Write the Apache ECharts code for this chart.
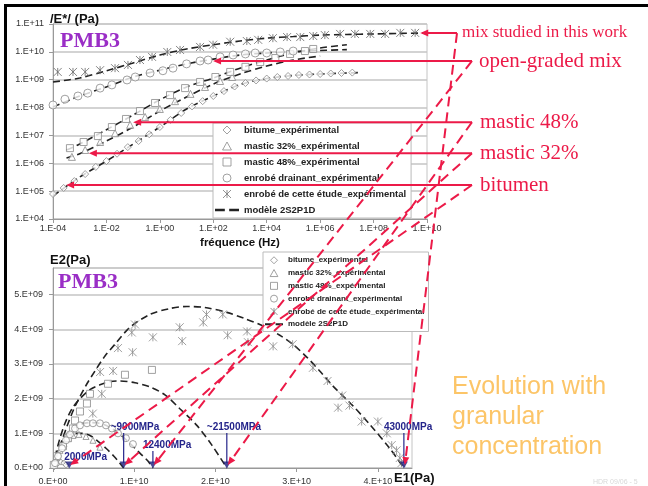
<!DOCTYPE html>
<html><head><meta charset="utf-8">
<script src="https://cdn.jsdelivr.net/npm/echarts@6/dist/echarts.min.js"></script>
<style>html,body{margin:0;padding:0;background:#fff}#c{width:648px;height:486px}</style>
</head><body><div id="c"></div>
<script>
// ---------------- DATA ----------------
// Tick labels
const topXTickLabels = ['1.E-04','1.E-02','1.E+00','1.E+02','1.E+04','1.E+06','1.E+08','1.E+10'];
const topYTickLabels = ['1.E+04','1.E+05','1.E+06','1.E+07','1.E+08','1.E+09','1.E+10','1.E+11'];
const botXTickLabels = ['0.E+00','1.E+10','2.E+10','3.E+10','4.E+10'];
const botYTickLabels = ['0.E+00','1.E+09','2.E+09','3.E+09','4.E+09','5.E+09'];

// Series names
const S_BIT = 'bitume_expérimental';
const S_M32 = 'mastic 32%_expérimental';
const S_M48 = 'mastic 48%_expérimental';
const S_OG  = 'enrobé drainant_expérimental';
const S_MIX = 'enrobé de cette étude_expérimental';
const S_MOD = 'modèle 2S2P1D';

// Top chart : [frequency (Hz), |E*| (Pa)]
const bitumenTop = [[1e-4,7.9e4],[2.5e-4,1.3e5],[6.3e-4,2.3e5],[1.6e-3,4.1e5],[4e-3,7.4e5],[1e-2,1.2e6],[2.5e-2,2.2e6],[6.3e-2,3.8e6],[0.16,6.3e6],[0.4,1.1e7],[1,2.0e7],[2.5,3.6e7],[6.3,6.4e7],[16,1.1e8],[40,1.7e8],[100,2.6e8],[250,3.9e8],[630,5.7e8],[1600,7.6e8],[4000,9.4e8],[1e4,1.1e9],[2.5e4,1.25e9],[6.3e4,1.36e9],[1.6e5,1.48e9],[4e5,1.54e9],[1e6,1.6e9],[2.5e6,1.67e9],[6.3e6,1.74e9],[1.6e7,1.8e9]];
const mastic32Top = [[5.1e-4,1.7e6],[1.6e-3,3.0e6],[5.8e-3,5.8e6],[2.1e-2,1.2e7],[7.7e-2,2.4e7],[0.28,4.6e7],[1.0,8.9e7],[3.7,1.7e8],[14,3.1e8],[49,5.5e8],[180,9.0e8],[510,1.25e9]];
const mastic48Top = [[4.3e-4,3.5e6],[1.4e-3,5.8e6],[4.8e-3,9.5e6],[1.6e-2,2.0e7],[5.4e-2,3.9e7],[0.18,7.5e7],[0.66,1.46e8],[2.4,2.8e8],[8.8,5.0e8],[32,8.3e8],[120,1.25e9],[430,1.9e9],[1.6e3,2.9e9],[5.7e3,4.3e9],[2.1e4,6.0e9],[7.5e4,8.4e9],[2.7e5,1.07e10],[5.5e5,1.27e10]];
const openGradedTop = [[1e-4,1.24e8],[2.8e-4,2.0e8],[8.6e-4,2.6e8],[2.0e-3,3.3e8],[5.8e-3,5.0e8],[1.6e-2,6.5e8],[5.9e-2,9.8e8],[0.12,1.25e9],[0.43,1.74e9],[1.3,2.1e9],[3.1,2.6e9],[10,3.7e9],[32,4.7e9],[64,5.1e9],[180,6.6e9],[550,7.7e9],[1.6e3,8.4e9],[3.7e3,9.1e9],[1.0e4,9.1e9],[3.2e4,9.9e9],[9.8e4,1.07e10]];
const mixTop = [[1.5e-4,1.9e9],[5.6e-4,1.9e9],[1.6e-3,1.9e9],[5.8e-3,2.2e9],[2.1e-2,2.6e9],[6.4e-2,3.4e9],[0.18,5.1e9],[0.51,6.6e9],[1.9,9.9e9],[5.7,1.17e10],[32,1.5e10],[98,1.8e10],[430,2.3e10],[1.8e3,2.45e10],[4.8e3,2.7e10],[1.7e4,3.1e10],[5.8e4,3.4e10],[1.8e5,3.4e10],[5.5e5,3.7e10],[1.5e6,4.0e10],[5.6e6,4.4e10],[2.0e7,4.4e10],[7.5e7,4.4e10],[2.7e8,4.4e10],[1.0e9,4.8e10],[3.6e9,4.8e10]];
// 2S2P1D model curves (top)
const mixModelTop = [[1e-4,8.3e8],[1e-3,1.15e9],[1e-2,2.1e9],[0.1,4.0e9],[1,7.7e9],[10,1.27e10],[100,1.8e10],[1e3,2.45e10],[1e4,3.1e10],[1e5,3.55e10],[1e6,4.0e10],[1e7,4.2e10],[1e8,4.4e10],[1e9,4.6e10],[1e10,4.75e10]];
const ogModelTop = [[1e-4,1.05e8],[1e-3,2.6e8],[1e-2,5.5e8],[0.1,1.25e9],[1,2.2e9],[10,3.7e9],[100,5.5e9],[1e3,7.7e9],[1e4,9.1e9],[1e5,1.03e10],[1e6,1.12e10],[1e7,1.2e10]];
const m48ModelTop = [[3.2e-4,3.0e6],[1e-3,4.9e6],[1e-2,1.6e7],[0.1,5.4e7],[1,1.9e8],[10,5.5e8],[100,1.15e9],[1e3,2.6e9],[1e4,5.1e9],[1e5,9.1e9],[1e6,1.38e10],[1e7,1.8e10]];
const m32ModelTop = [[3.2e-4,1.55e6],[1e-3,2.2e6],[1e-2,6.3e6],[0.1,2.0e7],[1,7.5e7],[10,2.4e8],[100,7.0e8],[1e3,1.6e9],[1e4,3.1e9],[1e5,5.1e9],[1e6,7.1e9]];
const bitModelTop = [[1e-4,6.7e4],[1e-3,3.2e5],[1e-2,1.2e6],[0.1,4.9e6],[1,2.0e7],[10,8.9e7],[100,2.6e8],[1e3,6.7e8],[1e4,1.1e9],[1e5,1.42e9],[1e6,1.6e9],[1e7,1.74e9],[3e7,1.8e9]];

// Bottom chart (Cole-Cole) : [E1 (Pa), E2 (Pa)]
const mixBot = [[4.9e9,1.57e9],[6.0e9,2.14e9],[5.8e9,2.77e9],[7.4e9,2.80e9],[8.0e9,3.46e9],[9.8e9,3.34e9],[9.7e9,3.91e9],[1.01e10,4.14e9],[1.23e10,3.77e9],[1.56e10,4.06e9],[1.59e10,3.66e9],[1.85e10,4.20e9],[1.89e10,4.43e9],[2.09e10,4.43e9],[2.15e10,3.83e9],[2.39e10,3.94e9],[2.40e10,3.63e9],[2.71e10,3.51e9],[2.95e10,3.57e9],[3.20e10,2.89e9],[3.38e10,2.51e9],[3.56e10,2.09e9],[3.51e10,1.74e9],[3.65e10,1.80e9],[3.80e10,1.34e9],[4.00e10,1.34e9],[4.11e10,1.00e9],[4.17e10,0.66e9],[4.23e10,0.51e9],[4.27e10,0.29e9],[4.29e10,0.14e9]];
const mastic48Bot = [[0.1e9,0.09e9],[0.49e9,0.34e9],[1.23e9,0.63e9],[1.85e9,0.86e9],[2.46e9,1.14e9],[2.71e9,1.37e9],[3.32e9,1.63e9],[4.18e9,1.86e9],[4.55e9,2.14e9],[6.77e9,2.43e9],[8.86e9,2.69e9],[1.218e10,2.83e9]];
const openGradedBot = [[0.25e9,0.14e9],[0.62e9,0.34e9],[1.11e9,0.57e9],[1.60e9,0.80e9],[2.09e9,0.97e9],[2.71e9,1.14e9],[3.32e9,1.23e9],[4.18e9,1.29e9],[4.92e9,1.29e9],[5.78e9,1.29e9],[6.52e9,1.23e9],[7.26e9,1.14e9],[8.00e9,1.00e9],[8.98e9,0.86e9],[9.84e9,0.69e9]];
const mastic32Bot = [[0.37e9,0.23e9],[0.86e9,0.51e9],[1.35e9,0.71e9],[1.85e9,0.86e9],[2.46e9,0.94e9],[3.20e9,0.97e9],[4.06e9,0.91e9],[4.92e9,0.80e9],[5.78e9,0.60e9]];
const bitumenBot = [[0.12e9,0.03e9],[0.37e9,0.09e9],[0.62e9,0.14e9],[0.98e9,0.17e9],[1.35e9,0.14e9],[1.6e9,0.09e9]];
const mixModelBot = [[0,0],[0.86e9,0.63e9],[1.72e9,1.20e9],[2.58e9,1.71e9],[3.32e9,2.06e9],[4.18e9,2.43e9],[5.17e9,2.80e9],[6.40e9,3.23e9],[7.63e9,3.57e9],[9.47e9,4.06e9],[1.193e10,4.43e9],[1.439e10,4.60e9],[1.648e10,4.66e9],[1.870e10,4.63e9],[2.140e10,4.49e9],[2.362e10,4.31e9],[2.546e10,4.14e9],[2.792e10,3.83e9],[2.952e10,3.57e9],[3.124e10,3.20e9],[3.284e10,2.80e9],[3.444e10,2.37e9],[3.690e10,1.80e9],[3.899e10,1.26e9],[4.145e10,0.57e9],[4.32e10,0]];
const m48ModelBot = [[0,0],[0.37e9,0.43e9],[0.86e9,0.86e9],[1.48e9,1.29e9],[2.34e9,1.71e9],[3.32e9,2.00e9],[4.55e9,2.26e9],[5.78e9,2.40e9],[7.01e9,2.49e9],[8.24e9,2.51e9],[1.009e10,2.46e9],[1.193e10,2.34e9],[1.378e10,2.11e9],[1.562e10,1.71e9],[1.771e10,1.23e9],[1.956e10,0.66e9],[2.14e10,0]];
const ogModelBot = [[0,0],[0.37e9,0.34e9],[0.86e9,0.66e9],[1.60e9,0.94e9],[2.46e9,1.14e9],[3.32e9,1.26e9],[4.55e9,1.31e9],[5.78e9,1.29e9],[7.01e9,1.17e9],[8.24e9,0.97e9],[9.47e9,0.71e9],[1.070e10,0.43e9],[1.169e10,0.20e9],[1.23e10,0]];
const m32ModelBot = [[0,0],[0.49e9,0.43e9],[1.11e9,0.71e9],[1.85e9,0.91e9],[2.71e9,1.00e9],[3.57e9,1.00e9],[4.55e9,0.94e9],[5.54e9,0.77e9],[6.52e9,0.57e9],[7.50e9,0.34e9],[8.24e9,0.14e9],[8.7e9,0]];
const bitModelBot = [[0,0],[0.3e9,0.12e9],[0.7e9,0.18e9],[1.1e9,0.19e9],[1.5e9,0.14e9],[1.8e9,0.08e9],[2.0e9,0]];

// Glassy moduli marked on the E1 axis
const transitionE1 = [2.0e9, 8.7e9, 1.23e10, 2.14e10, 4.32e10];
const transitionLabels = ['2000MPa','~9000MPa','12400MPa','~21500MPa','43000MPa'];

// Points on the top chart the red labels point at: [freq, |E*|]
const redLabelTexts = ['mix studied in this work','open-graded mix','mastic 48%','mastic 32%','bitumen'];
const redTargetsTop = [[5.6e9,4.75e10],[98,4.7e9],[0.1,3.0e7],[2.2e-3,2.3e6],[3.1e-4,1.66e5]];
const redTargetTransition = [4, 2, 3, 1, 0]; // index into transitionE1

// ---------------- CHART ----------------
const FONT = '"Liberation Sans", Arial, sans-serif';
const SERIF = '"Liberation Serif", "Times New Roman", serif';
const GRAY = '#8a8a8a';
const GRID = '#c4c4c4';
const RED = '#ec1a48';
const BLUE = '#24248a';
const STAR = 'path://M0,0L10,10M10,0L0,10M5,0L5,10';
const DIAMOND = 'path://M5,0L10,5L5,10L0,5Z';
const TRIANGLE = 'path://M5,0L10,9L0,9Z';
const SQUARE = 'path://M0,0L10,0L10,10L0,10Z';
const DASH_ICON = 'path://M0,0L9,0L9,2.2L0,2.2ZM13,0L22,0L22,2.2L13,2.2Z';
const lg = a => a.map(p => [Math.log10(p[0]), p[1]]);

const marker = {
  [S_BIT]: {symbol:'diamond', top:7, bot:6},
  [S_M32]: {symbol:'triangle', top:7, bot:6},
  [S_M48]: {symbol:'rect', top:7, bot:7},
  [S_OG]:  {symbol:'circle', top:8, bot:7},
  [S_MIX]: {symbol:STAR, top:8, bot:8}
};
const hollow = {color:'#fff', borderColor:GRAY, borderWidth:1};
const starStyle = c => ({color:'rgba(0,0,0,0)', borderColor:c, borderWidth:1});
function scatter(name, data, grid) {
  const m = marker[name];
  return {
    type:'scatter', name, data, xAxisIndex:grid, yAxisIndex:grid, z:3,
    symbol:m.symbol, symbolSize: grid === 0 ? m.top : m.bot, silent:true,
    itemStyle: name === S_MIX ? starStyle(grid === 0 ? '#666' : '#8a8a8a') : hollow
  };
}
function model(data, grid) {
  return {type:'line', name:S_MOD, data, xAxisIndex:grid, yAxisIndex:grid, smooth:0.3, symbol:'none', showSymbol:false, z:2,
    silent:true, itemStyle:{color:'#222'}, lineStyle:{color:'#222', width:1.6, type:[7,4]}};
}
const legendItems = [
  {name:S_BIT, icon:DIAMOND, itemStyle:hollow},
  {name:S_M32, icon:TRIANGLE, itemStyle:hollow},
  {name:S_M48, icon:SQUARE, itemStyle:hollow},
  {name:S_OG, icon:'circle', itemStyle:hollow},
  {name:S_MIX, icon:STAR, itemStyle:starStyle('#777')},
  {name:S_MOD, icon:DASH_ICON, itemStyle:{color:'#222', borderWidth:0}}
];

const axisLbl = {fontFamily:FONT, fontSize:9, color:'#333'};
const option = {
  animation:false,
  backgroundColor:'#fff',
  grid:[
    {left:53, top:24, width:374, height:195, show:true, borderColor:GRID, borderWidth:1},
    {left:53, top:268, width:359, height:202, show:true, borderColor:GRID, borderWidth:1}
  ],
  xAxis:[
    {gridIndex:0, type:'value', min:-4, max:10, interval:2,
     axisLine:{onZero:false, lineStyle:{color:'#999'}}, axisTick:{length:4, lineStyle:{color:'#999'}},
     splitLine:{show:false}, axisLabel:{...axisLbl, margin:5, formatter:v => topXTickLabels[Math.round((v+4)/2)] || ''},
     name:'fréquence (Hz)', nameLocation:'middle', nameGap:18,
     nameTextStyle:{fontFamily:FONT, fontSize:11.5, fontWeight:'bold', color:'#111'}},
    {gridIndex:1, type:'value', min:0, max:4.42e10, interval:1e10,
     axisLine:{onZero:false, lineStyle:{color:'#999'}}, axisTick:{length:4, lineStyle:{color:'#999'}},
     splitLine:{show:false}, axisLabel:{...axisLbl, margin:9, showMaxLabel:false, formatter:v => botXTickLabels[Math.round(v/1e10)] || ''}}
  ],
  yAxis:[
    {gridIndex:0, type:'log', logBase:10, min:1e4, max:1e11,
     axisLine:{show:true, onZero:false, lineStyle:{color:'#999'}}, axisTick:{show:true, length:4, lineStyle:{color:'#999'}},
     splitLine:{lineStyle:{color:GRID, width:1.5}}, minorTick:{show:false},
     axisLabel:{...axisLbl, margin:9, formatter:v => topYTickLabels[Math.round(Math.log10(v))-4] || ''}},
    {gridIndex:1, type:'value', min:0, max:5.77e9, interval:1e9,
     axisLine:{show:true, onZero:false, lineStyle:{color:'#999'}}, axisTick:{show:true, length:4, lineStyle:{color:'#999'}},
     splitLine:{lineStyle:{color:GRID, width:1.5}},
     axisLabel:{...axisLbl, margin:10, showMaxLabel:false, formatter:v => botYTickLabels[Math.round(v/1e9)] || ''}}
  ],
  legend:[
    {left:213, top:123, orient:'vertical', align:'left', padding:[1,5,2,2], itemGap:4, itemWidth:24, itemHeight:8,
     symbolKeepAspect:true, backgroundColor:'#fff', borderColor:'#bbb', borderWidth:1, selectedMode:false, z:10,
     textStyle:{fontFamily:FONT, fontSize:9.5, fontWeight:'bold', color:'#222', lineHeight:12},
     data:legendItems},
    {left:263, top:252, orient:'vertical', align:'left', padding:[3,4,2,2], itemGap:2.3, itemWidth:18, itemHeight:7,
     symbolKeepAspect:true, backgroundColor:'#fff', borderColor:'#bbb', borderWidth:1, selectedMode:false, z:10,
     textStyle:{fontFamily:FONT, fontSize:8, fontWeight:'bold', color:'#222', lineHeight:10.5},
     data:legendItems}
  ],
  series:[
    model(lg(bitModelTop),0), model(lg(m32ModelTop),0), model(lg(m48ModelTop),0), model(lg(ogModelTop),0), model(lg(mixModelTop),0),
    scatter(S_BIT, lg(bitumenTop), 0), scatter(S_M32, lg(mastic32Top), 0), scatter(S_M48, lg(mastic48Top), 0),
    scatter(S_OG, lg(openGradedTop), 0), scatter(S_MIX, lg(mixTop), 0),
    model(bitModelBot,1), model(m32ModelBot,1), model(ogModelBot,1), model(m48ModelBot,1), model(mixModelBot,1),
    scatter(S_BIT, bitumenBot, 1), scatter(S_M32, mastic32Bot, 1), scatter(S_M48, mastic48Bot, 1),
    scatter(S_OG, openGradedBot, 1), scatter(S_MIX, mixBot, 1),
    {type:'scatter', name:'transition', data:transitionE1.map(e => [e,0]), xAxisIndex:1, yAxisIndex:1,
     symbol:'triangle', symbolRotate:180, symbolSize:[8,7], symbolOffset:[0,-3], z:6, silent:true,
     itemStyle:{color:'#1a1a7a'}}
  ]
};
const chart = echarts.init(document.getElementById('c'));
chart.setOption(option);

// ---------------- ANNOTATIONS ----------------
function arrowHead(tip, from, len, half, color) {
  const dx = tip[0]-from[0], dy = tip[1]-from[1], L = Math.hypot(dx,dy);
  const ux = dx/L, uy = dy/L, bx = tip[0]-ux*len, by = tip[1]-uy*len;
  return {type:'polygon', silent:true, z:120, shape:{points:[tip,[bx-uy*half,by+ux*half],[bx+uy*half,by-ux*half]]}, style:{fill:color}};
}
function text(t, x, y, font, fill) {
  return {type:'text', silent:true, z:110, x, y,
    style:{text:t, font, fill, align:'left', verticalAlign:'middle', textAlign:'left', textVerticalAlign:'middle'}};
}
const g = [];
// slide frame
g.push({type:'rect', silent:true, z:130, shape:{x:4, y:4, width:644, height:3}, style:{fill:'#000'}});
g.push({type:'rect', silent:true, z:130, shape:{x:4, y:4, width:3, height:482}, style:{fill:'#000'}});
// titles / axis names
g.push(text('/E*/ (Pa)', 50, 19, 'bold 13px ' + FONT, '#111'));
g.push(text('E2(Pa)', 50, 260, 'bold 13px ' + FONT, '#111'));
g.push(text('E1(Pa)', 394, 478, 'bold 13px ' + FONT, '#111'));
g.push(text('PMB3', 60, 41, 'bold 22px ' + SERIF, '#9a2ec6'));
g.push(text('PMB3', 58, 282, 'bold 22px ' + SERIF, '#9a2ec6'));
// blue glassy-modulus markers
const blueLayout = [{dx:-5, cy:457, top:null},{dx:-13, cy:427, top:433},{dx:-10, cy:445, top:451},{dx:-20, cy:427, top:433},{dx:-20, cy:427, top:433}];
transitionE1.forEach((e, i) => {
  const p = chart.convertToPixel({gridIndex:1}, [e, 0]);
  const L = blueLayout[i];
  if (L.top !== null) g.push({type:'line', silent:true, z:105, shape:{x1:p[0], y1:L.top, x2:p[0], y2:p[1]-5}, style:{stroke:BLUE, lineWidth:1.2}});
  g.push(text(transitionLabels[i], p[0]+L.dx, L.cy, 'bold 10px ' + FONT, BLUE));
});
// red labels & arrows
const redLayout = [{x:462, corner:457, size:17},{x:479, corner:472, size:21},{x:480, corner:472, size:21},{x:480, corner:472, size:21},{x:480, corner:472, size:21}];
redLabelTexts.forEach((t, i) => {
  const tp = redTargetsTop[i];
  const tip = chart.convertToPixel({gridIndex:0}, [Math.log10(tp[0]), tp[1]]);
  const L = redLayout[i];
  const corner = [L.corner, tip[1]];
  g.push({type:'line', silent:true, z:115, shape:{x1:corner[0], y1:corner[1], x2:tip[0]+6, y2:tip[1]}, style:{stroke:RED, lineWidth:2}});
  g.push(arrowHead(tip, corner, 8, 3.5, RED));
  g.push(text(t, L.x, tip[1], L.size + 'px ' + SERIF, RED));
  const b = chart.convertToPixel({gridIndex:1}, [transitionE1[redTargetTransition[i]], 0]);
  const end = [b[0]+1, b[1]-3];
  const dx = end[0]-corner[0], dy = end[1]-corner[1], len = Math.hypot(dx,dy);
  const stop = [end[0]-dx/len*7, end[1]-dy/len*7];
  g.push({type:'line', silent:true, z:115, shape:{x1:corner[0], y1:corner[1], x2:stop[0], y2:stop[1]}, style:{stroke:RED, lineWidth:2, lineDash:[10,6]}});
  g.push(arrowHead(end, corner, 8, 3.5, RED));
});
// side note
g.push({type:'text', silent:true, z:110, x:452, y:372,
  style:{text:'Evolution with\ngranular\nconcentration', font:'25px ' + FONT, fill:'#fcc568', lineHeight:30,
         align:'left', verticalAlign:'top', textAlign:'left', textVerticalAlign:'top'}});
g.push(text('HDR 09/06 - 5', 593, 482, '7px ' + FONT, '#d8d8d8'));
chart.setOption({graphic:{elements:g}});
</script>
</body></html>
